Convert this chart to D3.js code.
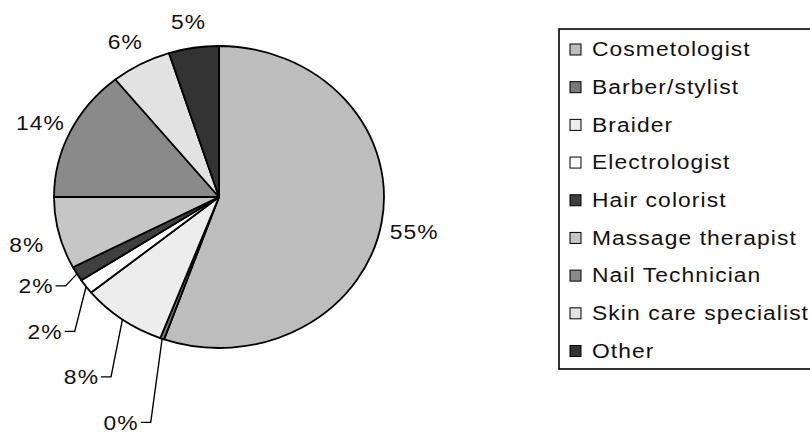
<!DOCTYPE html>
<html>
<head>
<meta charset="utf-8">
<script src="https://cdn.jsdelivr.net/npm/d3@7"></script>
<style>
  body { margin: 0; background: #fff; }
  text { font-family: "Liberation Sans", Arial, sans-serif; font-size: 21px; letter-spacing: 1px; fill: #111; }
</style>
</head>
<body>
<div id="chart"></div>
<script>
// categories in the order Excel draws them (clockwise from 12 o'clock)
var categories = ["Cosmetologist", "Barber/stylist", "Braider", "Electrologist", "Hair colorist",
                  "Massage therapist", "Nail Technician", "Skin care specialist", "Other"];
// share of respondents, percent
var shares = [55.4, 0.4, 8.3, 1.6, 1.6, 7.7, 14.2, 5.9, 4.9];
// grey fills standing in for the printed hatch patterns
var fills = ["#bdbdbd", "#7a7a7a", "#ededed", "#ffffff", "#3f3f3f", "#c6c6c6", "#8a8a8a", "#e2e2e2", "#333333"];

var W = 810, H = 432;
var cx = 219, cy = 197, rx = 165, ry = 151;
var stretch = rx / ry * 0.995; // the scan is a bit wider than tall, text too

var data = categories.map(function(c, i) { return { name: c, value: shares[i], fill: fills[i] }; });

var svg = d3.select("#chart").append("svg")
    .attr("width", W)
    .attr("height", H);

var pie = d3.pie().sort(null).value(function(d) { return d.value; });
var arcs = pie(data);

// unit arc, squashed into an ellipse like the scanned chart
var arc = d3.arc().innerRadius(0).outerRadius(1);

var pieG = svg.append("g")
    .attr("transform", "translate(" + cx + "," + cy + ") scale(" + rx + "," + ry + ")");

pieG.selectAll("path.slice")
  .data(arcs)
  .enter().append("path")
    .attr("class", "slice")
    .attr("d", arc)
    .attr("fill", function(d) { return d.data.fill; })
    .attr("stroke", "#000")
    .attr("stroke-width", 1.8)
    .attr("vector-effect", "non-scaling-stroke")
    .attr("stroke-linejoin", "round");

// point on the ellipse at angle a (radians, clockwise from top) and radius factor k
function onPie(a, k) {
  return [cx + Math.sin(a) * k * rx, cy - Math.cos(a) * k * ry];
}

// widened text, placed at x,y
function wideText(parent, x, y, str, anchor) {
  var g = parent.append("g")
      .attr("transform", "translate(" + x + "," + y + ") scale(" + stretch + ",1)");
  var t = g.append("text")
      .attr("dy", "0.35em")
      .attr("text-anchor", anchor)
      .text(str);
  return t;
}

// labels: outside the slice, small lower-left ones stacked with leader lines
var labelG = svg.append("g");
var laid = arcs.map(function(d) {
  var mid = (d.startAngle + d.endAngle) / 2;
  var deg = mid * 180 / Math.PI;
  return { d: d, mid: mid, deg: deg, leader: deg > 180 && deg < 250 };
});

laid.forEach(function(l) {
  if (l.leader) return;
  var p = onPie(l.mid, 1.2);
  l.x = p[0]; l.y = p[1];
});

// stack the leader labels downward from the massage label
var massage = laid.filter(function(l) { return !l.leader && l.deg > 250 && l.deg < 270; })[0];
var prevY = massage.y;
laid.filter(function(l) { return l.leader; })
  .sort(function(a, b) { return b.deg - a.deg; })
  .forEach(function(l) {
    var anchor = onPie(l.mid, 1);
    l.anchor = anchor;
    l.x = anchor[0] - 41;
    l.y = prevY + 45.5;
    prevY = l.y;
  });

laid.forEach(function(l) {
  var y = l.leader ? l.y : l.y + 4;
  var t = wideText(labelG, l.x, y, Math.round(l.d.data.value) + "%", "middle");
  if (l.leader) {
    var w = t.node().getComputedTextLength() * stretch;
    var x0 = l.x + w / 2 + 2;
    labelG.append("polyline")
      .attr("points", [[x0, l.y], [x0 + 10, l.y], l.anchor].map(function(p) { return p.join(","); }).join(" "))
      .attr("fill", "none")
      .attr("stroke", "#000")
      .attr("stroke-width", 1.4);
  }
});

// legend
var leg = svg.append("g").attr("transform", "translate(559,29)");
leg.append("rect")
    .attr("x", 0).attr("y", 0)
    .attr("width", 300).attr("height", 340)
    .attr("fill", "#fff")
    .attr("stroke", "#000")
    .attr("stroke-width", 1.6);

var rowY = d3.scalePoint().domain(categories).range([20, 321.5]);

var rows = leg.selectAll("g.row")
  .data(data)
  .enter().append("g")
    .attr("class", "row")
    .attr("transform", function(d) { return "translate(0," + rowY(d.name) + ")"; });

rows.append("rect")
    .attr("x", 11).attr("y", -5)
    .attr("width", 11).attr("height", 11)
    .attr("fill", function(d) { return d.fill; })
    .attr("stroke", "#000")
    .attr("stroke-width", 1);

rows.each(function(d) {
  wideText(d3.select(this), 33, 0, d.name, "start");
});
</script>
</body>
</html>
